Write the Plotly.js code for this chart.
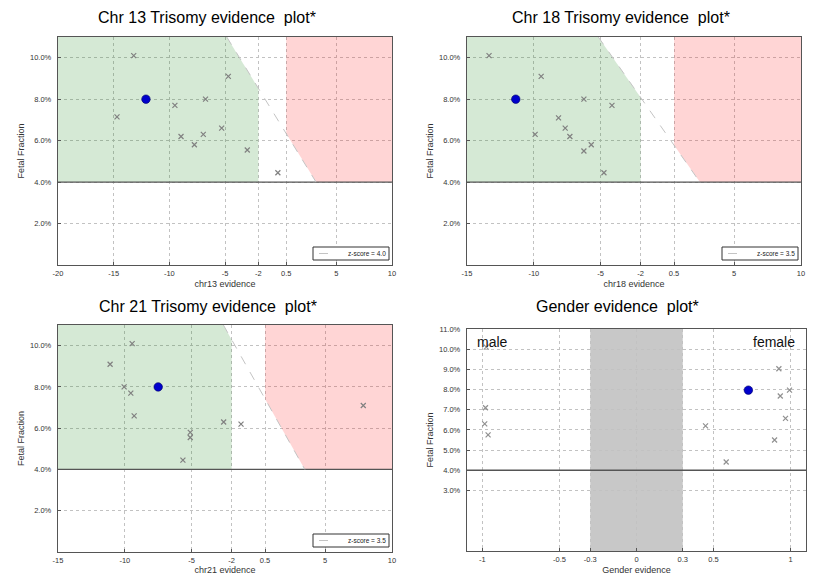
<!DOCTYPE html>
<html>
<head>
<meta charset="utf-8">
<script src="https://cdn.plot.ly/plotly-3.0.1.min.js"></script>
<style>html,body{margin:0;padding:0;background:#fff;}#chart{width:815px;height:575px;}</style>
</head>
<body>
<div id="chart"></div>
<script>
// ---------------- data ----------------
// chr13
const chr13X = [-13.2, -14.7, -9.5, -8.95, -7.75, -6.75, -6.95, -5.3, -4.7, -3.0, -0.25];
const chr13FF = [0.101, 0.0715, 0.077, 0.062, 0.058, 0.080, 0.063, 0.066, 0.091, 0.0555, 0.0445];
const chr13SampleX = [-12.1];
const chr13SampleFF = [0.080];
const chr13BoundX = [-4.84, 3.18];   // z-score = 4.0 line
// chr18
const chr18X = [-13.35, -9.45, -9.9, -8.15, -7.65, -7.3, -6.25, -6.25, -5.7, -4.75, -4.15];
const chr18FF = [0.101, 0.091, 0.063, 0.071, 0.066, 0.062, 0.080, 0.055, 0.058, 0.0445, 0.077];
const chr18SampleX = [-11.35];
const chr18SampleFF = [0.080];
const chr18BoundX = [-5.17, 2.43];   // z-score = 3.5 line
// chr21
const chr21X = [-9.45, -11.1, -10.05, -9.55, -9.3, -5.1, -5.1, -5.65, -2.6, -1.3, 7.85];
const chr21FF = [0.101, 0.091, 0.080, 0.077, 0.066, 0.058, 0.0555, 0.0445, 0.063, 0.062, 0.071];
const chr21SampleX = [-7.5];
const chr21SampleFF = [0.080];
const chr21BoundX = [-2.62, 3.48];   // z-score = 3.5 line
// gender
const genderX = [-0.975, -0.98, -0.985, -0.963, 0.448, 0.582, 0.924, 0.993, 0.933, 0.967, 0.896];
const genderFF = [0.101, 0.071, 0.063, 0.0575, 0.062, 0.0441, 0.0903, 0.0797, 0.0768, 0.0657, 0.055];
const genderSampleX = [0.726];
const genderSampleFF = [0.0797];

const boundFF = [0.11, 0.04];
const ffThreshold = 0.04;
const normalLimit = -2;
const trisomyLimit = 0.5;
const genderLow = -0.3, genderHigh = 0.3;

const zLabels = ['z-score = 4.0', 'z-score = 3.5', 'z-score = 3.5'];
const titles = ['Chr 13 Trisomy evidence\u00a0 plot*', 'Chr 18 Trisomy evidence\u00a0 plot*', 'Chr 21 Trisomy evidence\u00a0 plot*', 'Gender evidence\u00a0 plot*'];
const xTitles = ['chr13 evidence', 'chr18 evidence', 'chr21 evidence', 'Gender evidence'];
const triTickVals13 = [-20, -15, -10, -5, -2, 0.5, 5, 10];
const triTickText13 = ['-20', '-15', '-10', '-5', '-2', '0.5', '5', '10'];
const triTickVals = [-15, -10, -5, -2, 0.5, 5, 10];
const triTickText = ['-15', '-10', '-5', '-2', '0.5', '5', '10'];
const genderTickVals = [-1, -0.5, -0.3, 0, 0.3, 0.5, 1];
const genderTickText = ['-1', '-0.5', '-0.3', '0', '0.3', '0.5', '1'];
const triYTicks = [0.02, 0.04, 0.06, 0.08, 0.10];
const genderYTicks = [0.03, 0.04, 0.05, 0.06, 0.07, 0.08, 0.09, 0.10, 0.11];

// ---------------- layout helpers ----------------
const W = 815, H = 575;
const px = v => v / W;
const py = v => 1 - v / H;
const boxes = [
  {l: 58, r: 392, t: 37, b: 265, xr: [-20, 10]},
  {l: 467, r: 801, t: 37, b: 265, xr: [-15, 10]},
  {l: 58, r: 392, t: 325, b: 552, xr: [-15, 10]},
  {l: 467, r: 806, t: 329, b: 551, xr: [-1.1, 1.1]}
];
const GREEN = 'rgba(0,120,0,0.165)';
const RED = 'rgba(255,0,0,0.165)';

function yOnLine(xs, ys, xq) {
  return ys[0] + (ys[1] - ys[0]) * (xq - xs[0]) / (xs[1] - xs[0]);
}

const traces = [];
const shapes = [];
const annotations = [];

const triData = [
  [chr13X, chr13FF, chr13SampleX, chr13SampleFF, chr13BoundX],
  [chr18X, chr18FF, chr18SampleX, chr18SampleFF, chr18BoundX],
  [chr21X, chr21FF, chr21SampleX, chr21SampleFF, chr21BoundX]
];

triData.forEach((d, i) => {
  const n = i + 1;
  const xa = 'x' + (n === 1 ? '' : n), ya = 'y' + (n === 1 ? '' : n);
  const [xmin, xmax] = boxes[i].xr;
  const bx = d[4];
  const yN = yOnLine(bx, boundFF, normalLimit);
  const yT = yOnLine(bx, boundFF, trisomyLimit);
  const top = boundFF[0], bot = boundFF[1];
  // green (normal) region
  traces.push({x: [xmin, xmin, bx[0], normalLimit, normalLimit, xmin], y: [bot, top, top, yN, bot, bot],
    xaxis: xa, yaxis: ya, mode: 'none', fill: 'toself', fillcolor: GREEN, showlegend: false, hoverinfo: 'skip'});
  // red (trisomy) region
  traces.push({x: [trisomyLimit, xmax, xmax, bx[1], trisomyLimit, trisomyLimit], y: [top, top, bot, bot, yT, top],
    xaxis: xa, yaxis: ya, mode: 'none', fill: 'toself', fillcolor: RED, showlegend: false, hoverinfo: 'skip'});
  // threshold line
  traces.push({x: [xmin, xmax], y: [ffThreshold, ffThreshold], xaxis: xa, yaxis: ya, mode: 'lines',
    line: {color: '#555', width: 1.3}, showlegend: false, hoverinfo: 'skip'});
  // z-score line
  traces.push({x: bx, y: boundFF, xaxis: xa, yaxis: ya, mode: 'lines', name: zLabels[i],
    line: {color: '#c4c4c4', width: 1, dash: 'dash'}, showlegend: false, hoverinfo: 'skip'});
  // reference samples
  traces.push({x: d[0], y: d[1], xaxis: xa, yaxis: ya, mode: 'markers', showlegend: false,
    marker: {symbol: 'x-thin', size: 5, line: {width: 1.2, color: '#808080'}}});
  // current sample
  traces.push({x: d[2], y: d[3], xaxis: xa, yaxis: ya, mode: 'markers', showlegend: false,
    marker: {symbol: 'circle', size: 8.5, color: '#0000cc', line: {width: 0.6, color: '#000066'}}});
  // manual legend box
  const b = boxes[i];
  shapes.push({type: 'rect', xref: 'paper', yref: 'paper', x0: px(b.r - 79), x1: px(b.r - 3), y0: py(b.b - 5), y1: py(b.b - 18),
    line: {color: '#333', width: 1}, fillcolor: '#fff', layer: 'above'});
  shapes.push({type: 'line', xref: 'paper', yref: 'paper', x0: px(b.r - 73), x1: px(b.r - 58), y0: py(b.b - 11.5), y1: py(b.b - 11.5),
    line: {color: '#c4c4c4', width: 1, dash: 'dash'}, layer: 'above'});
  annotations.push({xref: 'paper', yref: 'paper', x: px(b.r - 5), y: py(b.b - 11.5), xanchor: 'right', yanchor: 'middle',
    text: zLabels[i], showarrow: false, borderpad: 0, font: {family: 'Liberation Sans', size: 6.5, color: '#222'}});
});

// gender plot
shapes.push({type: 'rect', xref: 'x4', yref: 'y4', x0: genderLow, x1: genderHigh, y0: 0, y1: 0.11,
  layer: 'below', line: {width: 0}, fillcolor: 'rgb(200,200,200)'});
traces.push({x: boxes[3].xr, y: [ffThreshold, ffThreshold], xaxis: 'x4', yaxis: 'y4', mode: 'lines',
  line: {color: '#555', width: 1.3}, showlegend: false, hoverinfo: 'skip'});
traces.push({x: genderX, y: genderFF, xaxis: 'x4', yaxis: 'y4', mode: 'markers', showlegend: false,
  marker: {symbol: 'x-thin', size: 5, line: {width: 1.2, color: '#909090'}}});
traces.push({x: genderSampleX, y: genderSampleFF, xaxis: 'x4', yaxis: 'y4', mode: 'markers', showlegend: false,
  marker: {symbol: 'circle', size: 8.5, color: '#0000cc', line: {width: 0.6, color: '#000066'}}});
annotations.push({xref: 'x4', yref: 'y4', x: -1.045, y: 0.1035, xanchor: 'left', yanchor: 'middle', text: 'male',
  showarrow: false, font: {family: 'Liberation Sans', size: 14, color: '#111'}});
annotations.push({xref: 'x4', yref: 'y4', x: 1.04, y: 0.1035, xanchor: 'right', yanchor: 'middle', text: 'female',
  showarrow: false, font: {family: 'Liberation Sans', size: 14, color: '#111'}});

// titles
const titleCenters = [[207.5, 18], [620.5, 18], [208, 306], [617, 306]];
titleCenters.forEach((c, i) => {
  annotations.push({xref: 'paper', yref: 'paper', x: px(c[0]), y: py(c[1]), xanchor: 'center', yanchor: 'middle',
    text: titles[i], showarrow: false, font: {family: 'Liberation Sans', size: 16, color: '#000'}});
});

// axes
const tickFont = {family: 'Liberation Sans', size: 7.5, color: '#333'};
const titleFont = {family: 'Liberation Sans', size: 9, color: '#333'};
const GRID = '#c2c2c2';
function xAxis(i, vals, text) {
  const b = boxes[i];
  return {domain: [px(b.l), px(b.r)], range: b.xr, tickmode: 'array', tickvals: vals, ticktext: text,
    showline: true, mirror: true, linecolor: '#555', linewidth: 1.2, showgrid: true, gridcolor: GRID,
    griddash: 'dot', gridwidth: 1, zeroline: false, ticks: 'inside', ticklen: 3, tickcolor: '#555',
    tickfont: tickFont, ticklabelstandoff: 1, anchor: 'y' + (i === 0 ? '' : i + 1),
    title: {text: xTitles[i], font: titleFont, standoff: 3}, automargin: false, fixedrange: true};
}
function yAxis(i, vals) {
  const b = boxes[i];
  return {domain: [py(b.b), py(b.t)], range: [0, 0.11], tickmode: 'array', tickvals: vals, tickformat: '.1%',
    showline: true, mirror: true, linecolor: '#555', linewidth: 1.2, showgrid: true, gridcolor: GRID,
    griddash: 'dot', gridwidth: 1, zeroline: false, ticks: 'inside', ticklen: 3, tickcolor: '#555',
    tickfont: tickFont, ticklabelstandoff: 4, anchor: 'x' + (i === 0 ? '' : i + 1),
    title: {text: 'Fetal Fraction', font: titleFont, standoff: 3}, automargin: false, fixedrange: true};
}

const layout = {
  width: W, height: H, margin: {l: 0, r: 0, t: 0, b: 0}, paper_bgcolor: '#fff', plot_bgcolor: '#fff',
  showlegend: false, hovermode: false,
  xaxis: xAxis(0, triTickVals13, triTickText13), yaxis: yAxis(0, triYTicks),
  xaxis2: xAxis(1, triTickVals, triTickText), yaxis2: yAxis(1, triYTicks),
  xaxis3: xAxis(2, triTickVals, triTickText), yaxis3: yAxis(2, triYTicks),
  xaxis4: xAxis(3, genderTickVals, genderTickText), yaxis4: yAxis(3, genderYTicks),
  shapes: shapes, annotations: annotations
};

Plotly.newPlot('chart', traces, layout, {displayModeBar: false, staticPlot: true});
</script>
</body>
</html>
